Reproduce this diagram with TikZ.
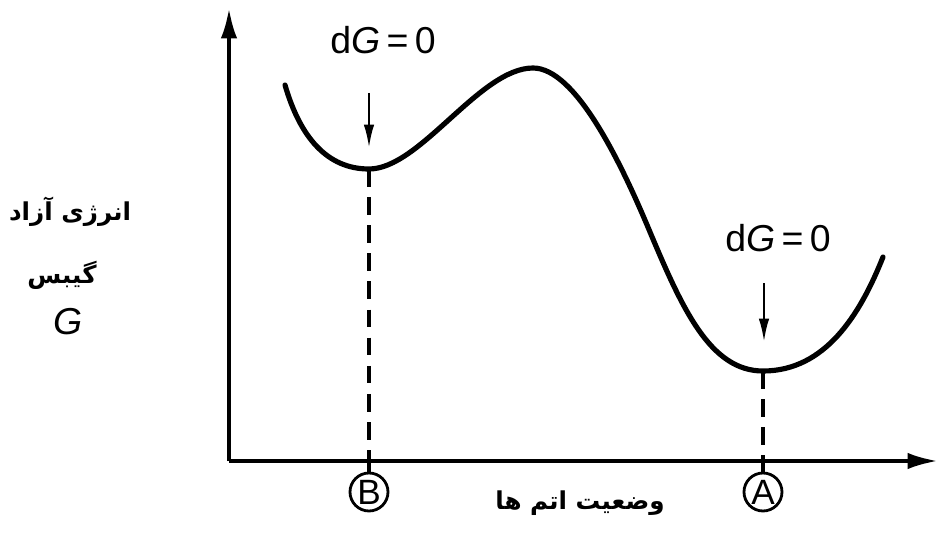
\documentclass[tikz,border=0pt]{standalone}
\usepackage{fontspec}
\setmainfont{Liberation Sans}
\newfontfamily\arabicfont[Script=Arabic]{DejaVu Sans}
\TeXXeTstate=1
\usetikzlibrary{arrows,arrows.meta}

\tikzset{
  axis/.style={line width=3.4pt,-{Latex[length=26pt,width=14pt]}},
  curve/.style={line width=4.4pt,line cap=round},
  dropline/.style={line width=2.8pt,dash pattern=on 15pt off 9pt},
  downarrow/.style={line width=2.2pt,-{Latex[length=20pt,width=9pt]}},
  state/.style={circle,draw,line width=2.4pt,minimum size=1.14cm,inner sep=0pt,font=\fontsize{30}{30}\selectfont},
  dglabel/.style={font=\fontsize{32}{34}\selectfont},
  falabel/.style={font=\arabicfont\bfseries\fontsize{21}{26}\selectfont}
}

\begin{document}
\begin{tikzpicture}[x=0.03cm,y=-0.03cm]
\useasboundingbox (0,0) rectangle (938,535);
% axes
\coordinate (o) at (229,461);
\coordinate (ytop) at (229,8);
\coordinate (xend) at (938,461);
\draw[axis] (o)--(ytop);
\draw[axis] (o)--(xend);
% energy curve
\coordinate (s) at (285,85);
\coordinate (minB) at (369,169);
\coordinate (top) at (533,68);
\coordinate (mid) at (650,232);
\coordinate (minA) at (763,371);
\coordinate (e) at (883,257);
\draw[curve] (s) .. controls (300,137) and (327,169) .. (minB)
  .. controls (420,169) and (480,68) .. (top)
  .. controls (575,68) and (620,160) .. (mid)
  .. controls (682,308) and (710,371) .. (minA)
  .. controls (825,371) and (860,315) .. (e);
% minima
\coordinate (axB) at (369,461);
\coordinate (axA) at (763,461);
\node[state] (B) at (369,492) {B};
\node[state] (A) at (763,492) {A};
\draw[dropline] (minB)--(axB);
\draw[dropline] (minA)--(axA);
\draw[line width=2.8pt] (axB)--(B);
\draw[line width=2.8pt] (axA)--(A);
% dG = 0
\node[dglabel] (dgB) at (383,40) {d\textit{G}\,=\,0};
\node[dglabel] (dgA) at (778,238) {d\textit{G}\,=\,0};
\coordinate (startB) at (369,93);
\coordinate (startA) at (764,283);
\coordinate (tipB) at (369,148);
\coordinate (tipA) at (764,342);
\draw[downarrow] (startB)--(tipB);
\draw[downarrow] (startA)--(tipA);
% labels
\node[falabel] (ylab1) at (70,212) {\beginR انرژی آزاد\endR};
\node[falabel] (ylab2) at (62,275) {\beginR گیبس\endR};
\node[dglabel] (ylab3) at (68,322) {\textit{G}};
\node[falabel] (xlab) at (580,503) {\beginR وضعیت اتم ها\endR};
\end{tikzpicture}
\end{document}
